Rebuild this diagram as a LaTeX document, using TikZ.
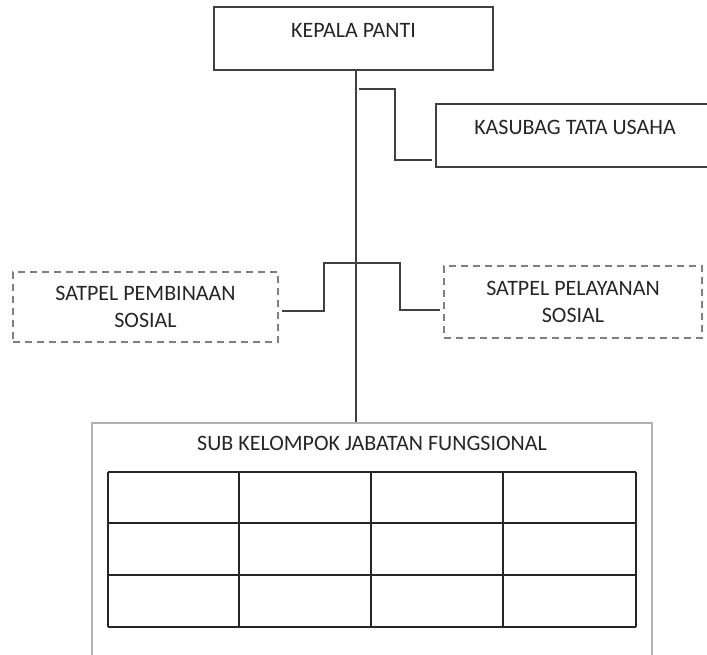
\documentclass[tikz,border=0pt]{standalone}
\usepackage{fontspec}
\setmainfont{Carlito}
\usepackage{tikz}
\usetikzlibrary{positioning}

\begin{document}
\begin{tikzpicture}[x=1pt, y=-1pt,
    every node/.style={font=\fontsize{22}{27}\selectfont, text=black!85},
    kotak/.style={draw=black!75, line width=1.6pt, minimum width=279pt,
        minimum height=63pt, text height=12pt, text depth=15pt},
    satpel/.style={draw=black!50, line width=1.4pt, dash pattern=on 7pt off 5pt,
        align=center},
    garis/.style={draw=black!75, line width=1.2pt}]
    \useasboundingbox (0,0) rectangle (707,654);
    \clip (0,0) rectangle (707,654);

    % Kotak jabatan
    \node[kotak] (kepala) at (353.5,38.5) {KEPALA PANTI};
    \node[kotak, minimum width=278pt] (kasubag) at (575,135.5) {KASUBAG TATA USAHA};
    \node[satpel, minimum width=265pt, minimum height=70pt] (pembinaan) at (145.5,307)
        {SATPEL PEMBINAAN\\SOSIAL};
    \node[satpel, minimum width=258pt, minimum height=72pt] (pelayanan) at (573,302)
        {SATPEL PELAYANAN\\SOSIAL};
    \node[draw=black!30, line width=1.4pt, minimum width=560pt, minimum height=270pt]
        (fungsional) at (372,558) {};
    \node[anchor=base] (judul) at (372,450) {SUB KELOMPOK JABATAN FUNGSIONAL};

    % Garis penghubung
    \coordinate (batang) at (356,0);
    \coordinate (tu) at (432,160);
    \coordinate (kiri) at (282,311);
    \coordinate (kanan) at (440,310);
    \draw[garis] (kepala.south -| batang) -- (fungsional.north -| batang);
    \draw[garis] (359,89) -| (395,160) -- (tu);
    \draw[garis] (kiri) -| (324,263) -| (400,310) -- (kanan);

    % Tabel
    \foreach \x in {108,239,371,503,636}
        \draw[line width=1.2pt, black!85] (\x,472) -- (\x,627);
    \foreach \y in {472,523,575,627}
        \draw[line width=1.2pt, black!85] (108,\y) -- (636,\y);
\end{tikzpicture}
\end{document}
